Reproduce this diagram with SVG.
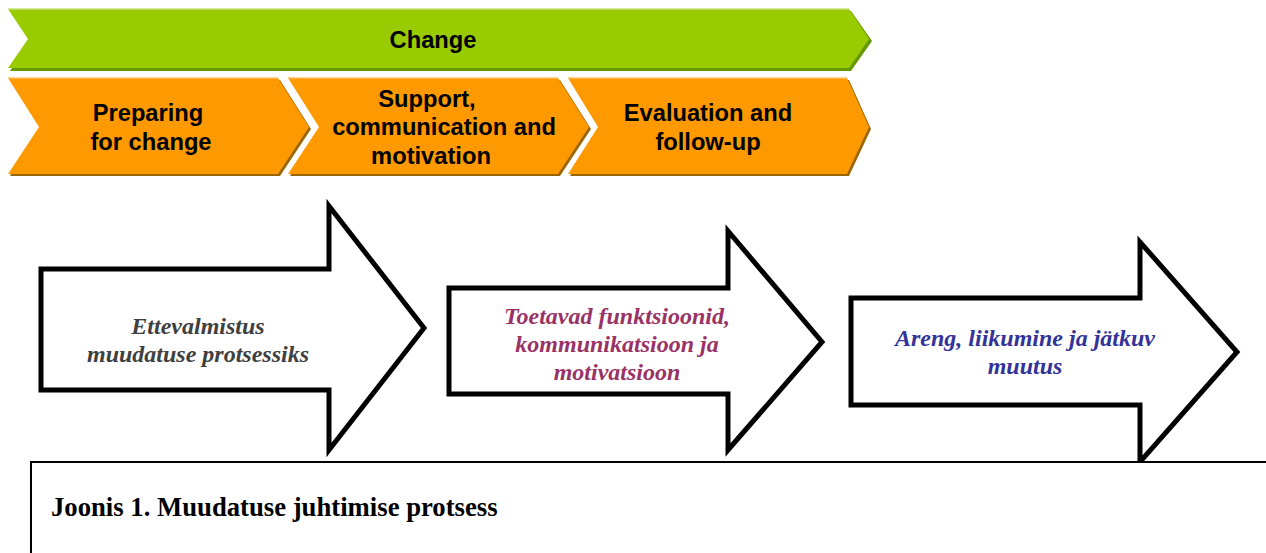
<svg xmlns="http://www.w3.org/2000/svg" width="1266" height="553" viewBox="0 0 1266 553">
  <style>
    .band { font-family: "Liberation Sans", Arial, sans-serif; font-weight: bold; font-size: 23.7px; fill: #000; text-anchor: middle; }
    .big { fill: #fff; stroke: #000; stroke-width: 5; stroke-linejoin: miter; }
    .lbl { font-family: "Liberation Serif", "Times New Roman", serif; font-weight: bold; font-style: italic; font-size: 24px; text-anchor: middle; }
    .cap { font-family: "Liberation Serif", "Times New Roman", serif; font-weight: bold; font-size: 26.7px; fill: #000; }
  </style>

  <!-- top band: overall change -->
  <g id="change">
    <polygon points="10,11 851,11 872,41 851,71 10,71 31,41" fill="#669900"/>
    <polygon points="8,9 849,9 869,39 849,68 8,68 28,39" fill="#99cc00"/>
    <polyline points="8,9 849,9" fill="none" stroke="#c4e27a" stroke-width="1.5"/>
    <text class="band" x="433" y="48">Change</text>
  </g>

  <!-- phase chevrons -->
  <g id="phase-prepare">
    <polygon points="10,80 280,80 311,129 280,176 10,176 41,129" fill="#996600"/>
    <polygon points="8,78 278,78 309,127 278,174 8,174 39,127" fill="#ff9900"/>
    <polyline points="8,78 278,78" fill="none" stroke="#ffc266" stroke-width="1.5"/>
    <text class="band" x="148" y="121">Preparing</text>
    <text class="band" x="151" y="150">for change</text>
  </g>

  <g id="phase-support">
    <polygon points="290,80 560,80 591,129 560,176 290,176 321,129" fill="#996600"/>
    <polygon points="288,78 558,78 589,127 558,174 288,174 319,127" fill="#ff9900"/>
    <polyline points="288,78 558,78" fill="none" stroke="#ffc266" stroke-width="1.5"/>
    <text class="band" x="427" y="107">Support,</text>
    <text class="band" x="444" y="135">communication and</text>
    <text class="band" x="431" y="164">motivation</text>
  </g>

  <g id="phase-evaluate">
    <polygon points="570,80 849,80 871,129 849,176 570,176 600,129" fill="#996600"/>
    <polygon points="568,78 847,78 869,127 847,174 568,174 598,127" fill="#ff9900"/>
    <polyline points="568,78 847,78" fill="none" stroke="#ffc266" stroke-width="1.5"/>
    <text class="band" x="708" y="121">Evaluation and</text>
    <text class="band" x="708" y="150">follow-up</text>
  </g>

  <!-- block arrows -->
  <g id="step-preparation">
    <polygon class="big" points="41,269 329,269 329,206 424,328 329,450 329,390 41,390"/>
    <text class="lbl" x="198" y="334" fill="#404040" font-size="23">Ettevalmistus</text>
    <text class="lbl" x="198" y="362" fill="#404040" font-size="23">muudatuse protsessiks</text>
  </g>

  <g id="step-support">
    <polygon class="big" points="449,288 728,288 728,231 822,342 728,450 728,394 449,394"/>
    <text class="lbl" x="617" y="324" fill="#993366">Toetavad funktsioonid,</text>
    <text class="lbl" x="617" y="352" fill="#993366">kommunikatsioon ja</text>
    <text class="lbl" x="617" y="380" fill="#993366">motivatsioon</text>
  </g>

  <g id="step-development">
    <polygon class="big" points="851,298 1140,298 1140,242 1237,352 1140,462 1140,405 851,405"/>
    <text class="lbl" x="1025" y="346" fill="#333399">Areng, liikumine ja jätkuv</text>
    <text class="lbl" x="1025" y="374" fill="#333399">muutus</text>
  </g>

  <!-- caption box -->
  <g id="caption">
    <rect x="31" y="462" width="1240" height="100" fill="#fff" stroke="#000" stroke-width="2"/>
    <text class="cap" x="51" y="516">Joonis 1. Muudatuse juhtimise protsess</text>
  </g>
</svg>
